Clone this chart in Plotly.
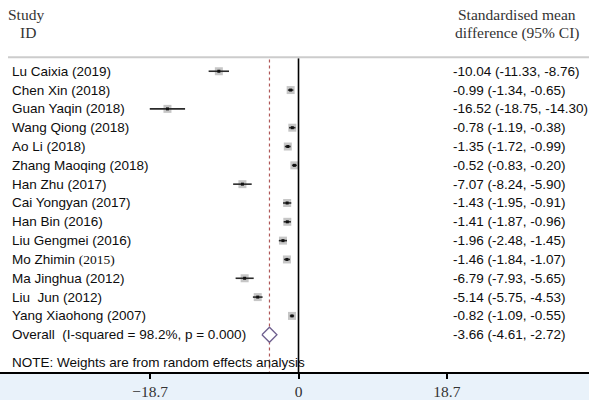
import plotly.graph_objects as go

# ---------------- data ----------------
studies = [
    "Lu Caixia (2019)", "Chen Xin (2018)", "Guan Yaqin (2018)", "Wang Qiong (2018)",
    "Ao Li (2018)", "Zhang Maoqing (2018)", "Han Zhu (2017)", "Cai Yongyan (2017)",
    "Han Bin (2016)", "Liu Gengmei (2016)", "Mo Zhimin <span style='font-family:Liberation Serif, Times New Roman, serif'>(2015)</span>",
    "Ma Jinghua (2012)", "Liu \u00a0Jun (2012)", "Yang Xiaohong (2007)",
]
smd = [-10.04, -0.99, -16.52, -0.78, -1.35, -0.52, -7.07, -1.43, -1.41, -1.96, -1.46, -6.79, -5.14, -0.82]
ci_lo = [-11.33, -1.34, -18.75, -1.19, -1.72, -0.83, -8.24, -1.95, -1.87, -2.48, -1.84, -7.93, -5.75, -1.09]
ci_hi = [-8.76, -0.65, -14.30, -0.38, -0.99, -0.20, -5.90, -0.91, -0.96, -1.45, -1.07, -5.65, -4.53, -0.55]
overall_label = "Overall \u00a0(I-squared = 98.2%, p = 0.000)"
overall_est = -3.66
overall_lo = -4.61
overall_hi = -2.72
note_text = "NOTE: Weights are from random effects analysis"
tick_vals = [-18.7, 0, 18.7]
tick_text = ["\u221218.7", "0", "18.7"]

rows = list(range(len(studies)))
overall_row = len(studies)

SANS = "Arial, Liberation Sans, sans-serif"
SERIF = "Times New Roman, Liberation Serif, serif"
TXT = "#0d0d0d"
FS = 13.5

fig = go.Figure()

# grey weight squares
fig.add_trace(go.Scatter(
    x=smd, y=rows, mode="markers",
    marker=dict(symbol="square", size=8, color="#c6c6c6", line=dict(width=0)),
    hoverinfo="skip", showlegend=False,
))
# black point estimates with CI lines (drawn over the squares)
fig.add_trace(go.Scatter(
    x=smd, y=rows, mode="markers",
    marker=dict(symbol="square", size=3, color="#111111"),
    error_x=dict(type="data", symmetric=False,
                 array=[h - m for h, m in zip(ci_hi, smd)],
                 arrayminus=[m - l for m, l in zip(smd, ci_lo)],
                 width=0, thickness=1.6, color="#2a2a2a"),
    hoverinfo="skip", showlegend=False,
))
# overall diamond
fig.add_trace(go.Scatter(
    x=[overall_lo, overall_est, overall_hi, overall_est, overall_lo],
    y=[overall_row, overall_row - 0.4, overall_row, overall_row + 0.4, overall_row],
    mode="lines", fill="toself", fillcolor="white",
    line=dict(color="#6e5f8e", width=1.3),
    hoverinfo="skip", showlegend=False,
))

# vertical reference lines
fig.add_shape(type="line", xref="x", yref="y", x0=overall_est, x1=overall_est,
              y0=-0.62, y1=15.98, line=dict(color="#b05858", width=1.2, dash="3px,3px"),
              layer="below")
fig.add_shape(type="line", xref="x", yref="y", x0=0, x1=0,
              y0=-0.69, y1=15.98, line=dict(color="black", width=1.6))
# top grey rule
fig.add_shape(type="line", xref="paper", yref="y", x0=8 / 589, x1=1,
              y0=-0.74, y1=-0.74, line=dict(color="#cccccc", width=2))

# text annotations
ann = []
for r, s, m, l, h in zip(rows, studies, smd, ci_lo, ci_hi):
    ann.append(dict(x=10 / 589, y=r, xref="paper", yref="y", text=s, showarrow=False,
                    xanchor="left", yanchor="middle", font=dict(family=SANS, size=FS, color=TXT)))
    ann.append(dict(x=451 / 589, y=r, xref="paper", yref="y",
                    text=f"{m:.2f} ({l:.2f}, {h:.2f})", showarrow=False,
                    xanchor="left", yanchor="middle", font=dict(family=SANS, size=FS, color=TXT)))
ann.append(dict(x=10 / 589, y=overall_row, xref="paper", yref="y", text=overall_label,
                showarrow=False, xanchor="left", yanchor="middle",
                font=dict(family=SANS, size=FS, color=TXT)))
ann.append(dict(x=451 / 589, y=overall_row, xref="paper", yref="y",
                text=f"{overall_est:.2f} ({overall_lo:.2f}, {overall_hi:.2f})",
                showarrow=False, xanchor="left", yanchor="middle",
                font=dict(family=SANS, size=FS, color=TXT)))
ann.append(dict(x=10 / 589, y=15.46, xref="paper", yref="y", text=note_text,
                showarrow=False, xanchor="left", yanchor="middle",
                font=dict(family=SANS, size=FS, color=TXT)))
# headers
for txt, xc, yc in [("Study", 26, 15), ("ID", 28, 33),
                    ("Standardised mean", 517, 15), ("difference (95% CI)", 517, 33)]:
    ann.append(dict(x=xc / 589, y=1 - yc / 376, xref="paper", yref="paper", text=txt,
                    showarrow=False, xanchor="center", yanchor="middle",
                    font=dict(family=SERIF, size=15.5, color="#333333")))

fig.update_layout(
    width=589, height=400,
    margin=dict(l=0, r=0, t=0, b=24, pad=0),
    paper_bgcolor="#e9f2fa", plot_bgcolor="white",
    annotations=ann,
    xaxis=dict(range=[-37.63, 36.62], showgrid=False, zeroline=False,
               showline=True, linecolor="black", linewidth=1.5,
               ticks="outside", ticklen=5, tickwidth=1.5, tickcolor="black",
               tickvals=tick_vals, ticktext=tick_text,
               tickfont=dict(family=SERIF, size=15.5, color="#333333"),
               fixedrange=True),
    yaxis=dict(range=[15.98, -3.785], showgrid=False, zeroline=False,
               showticklabels=False, showline=False, fixedrange=True),
    showlegend=False,
)

fig.write_html("out.html", config={"displayModeBar": False},
               post_script="document.body.style.margin='0';document.body.style.padding='0';")
